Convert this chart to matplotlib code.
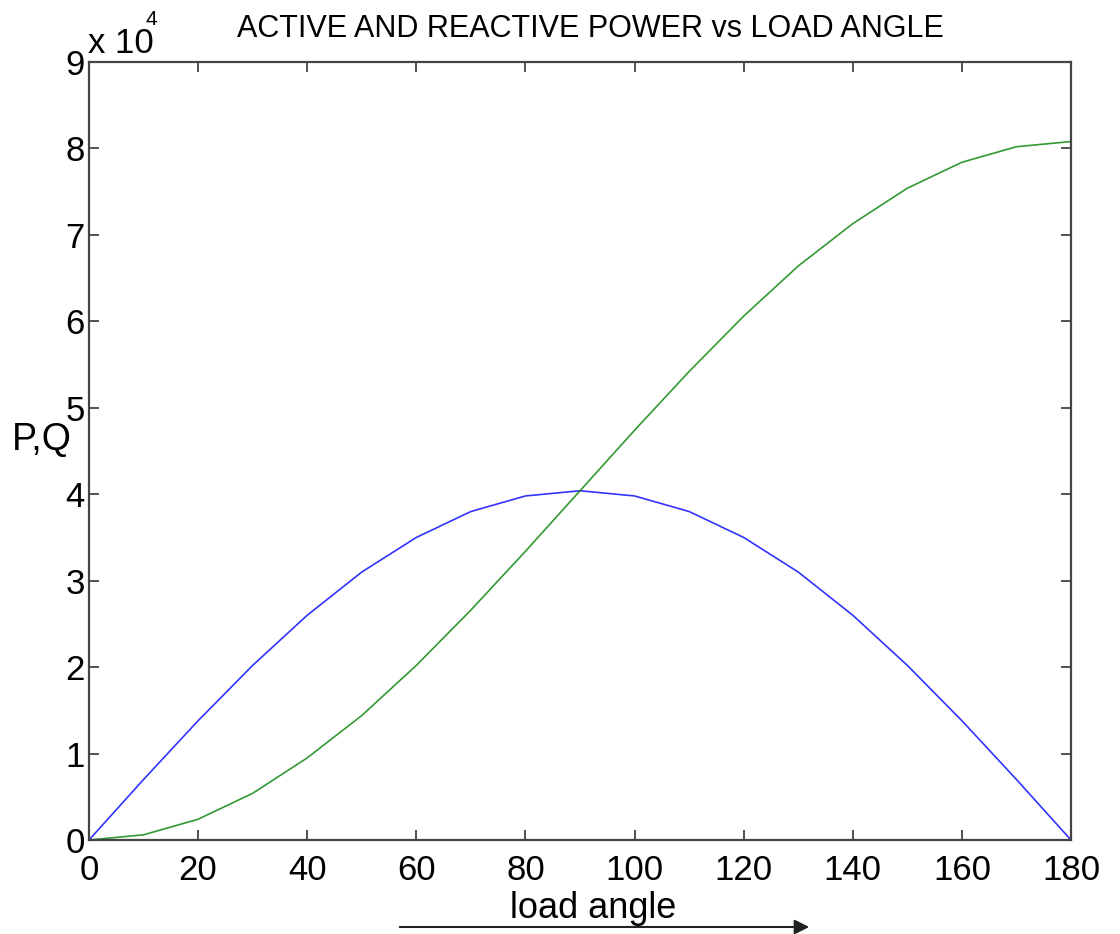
import matplotlib
matplotlib.use("Agg")
import matplotlib.pyplot as plt

plt.rcParams['font.family'] = ['Liberation Sans', 'DejaVu Sans']

load_angle = [0, 10, 20, 30, 40, 50, 60, 70, 80, 90, 100, 110, 120, 130, 140, 150, 160, 170, 180]
P_active = [0, 0.70, 1.38, 2.02, 2.60, 3.10, 3.50, 3.80, 3.98, 4.04, 3.98, 3.80, 3.50, 3.10, 2.60, 2.02, 1.38, 0.70, 0]
Q_reactive = [0, 0.06, 0.24, 0.54, 0.95, 1.44, 2.02, 2.66, 3.34, 4.04, 4.74, 5.42, 6.06, 6.64, 7.13, 7.54, 7.84, 8.02, 8.08]
xticks = [0, 20, 40, 60, 80, 100, 120, 140, 160, 180]
yticks = [0, 1, 2, 3, 4, 5, 6, 7, 8, 9]

fig = plt.figure(figsize=(11.2, 9.34), dpi=100)
ax = fig.add_axes([89/1120, 1-840/934, (1071-89)/1120, (840-62)/934])

ax.plot(load_angle, [v * 1e4 for v in P_active], color='#0000ff', lw=1.2, alpha=0.8)
ax.plot(load_angle, [v * 1e4 for v in Q_reactive], color='#008000', lw=1.2, alpha=0.8)

ax.set_xlim(0, 180)
ax.set_ylim(0, 9e4)
ax.set_xticks(xticks)
ax.set_xticklabels([str(t) for t in xticks])
ax.set_yticks([t * 1e4 for t in yticks])
ax.set_yticklabels([str(t) for t in yticks])
ax.tick_params(direction='in', top=True, right=True, length=7, width=1.2,
               labelsize=25, color='#333333')
ax.tick_params(axis='x', pad=10)
ax.tick_params(axis='y', pad=3)
for s in ax.spines.values():
    s.set_linewidth(1.6)
    s.set_color('#444444')

fig.text(590/1120, 1-29/934, 'ACTIVE AND REACTIVE POWER vs LOAD ANGLE', fontsize=22,
         ha='center', va='center')
fig.text(593/1120, 1-908/934, 'load angle', fontsize=26, ha='center', va='center')
fig.text(42/1120, 1-440/934, 'P,Q', fontsize=27, ha='center', va='center')

fig.text(88/1120, 1-53/934, 'x 10', fontsize=25, va='baseline', ha='left')
fig.text(145/1120, 1-25/934, '4', fontsize=15, va='baseline', ha='left')

fig.patches.append(matplotlib.patches.FancyArrowPatch(
    (397/1120, 1-927/934), (812/1120, 1-927/934), transform=fig.transFigure,
    arrowstyle='-|>', mutation_scale=22, color='#222222', lw=1.5))

fig.savefig('out.png', dpi=100)
